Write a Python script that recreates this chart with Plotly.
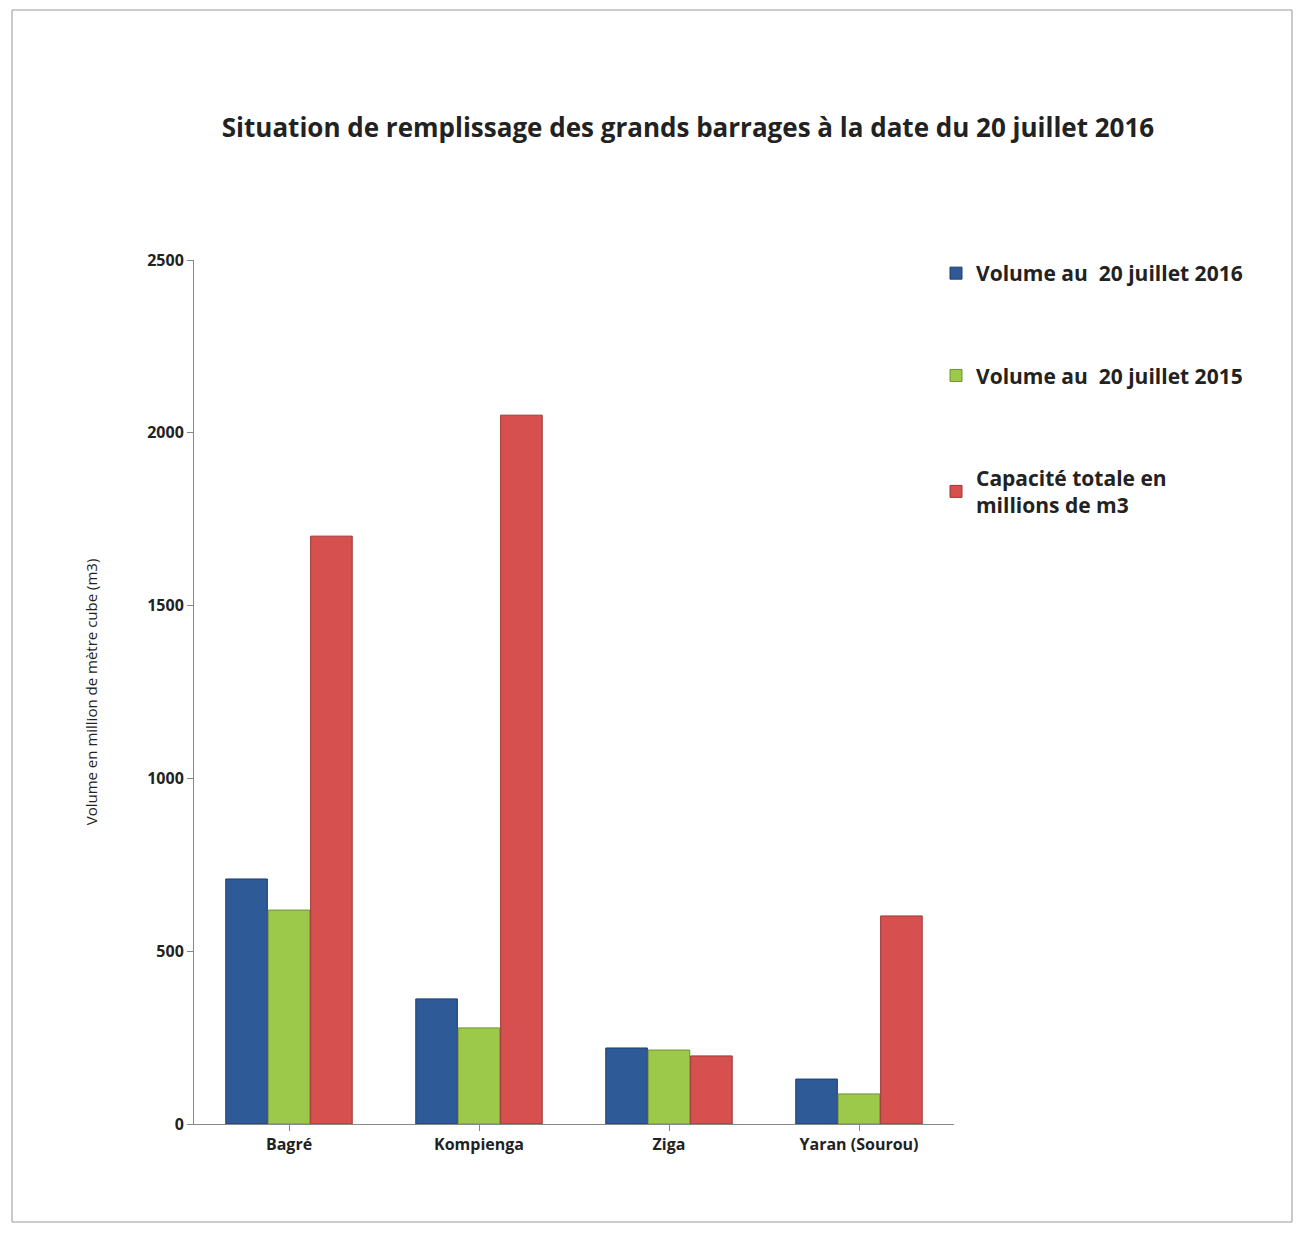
import plotly.graph_objects as go

categories = ["<b>Bagré</b>", "<b>Kompienga</b>", "<b>Ziga</b>", "<b>Yaran (Sourou)</b>"]
vol_2016 = [709, 362, 220, 130]
vol_2015 = [619, 278, 214, 87]
capacite = [1701, 2051, 197, 602]
names = ["<b>Volume au  20 juillet 2016</b>", "<b>Volume au  20 juillet 2015</b>",
         "<b>Capacité totale en<br>millions de m3</b>"]
colors = ["#2F5A98", "#9CC94A", "#D5504E"]
lines = ["#1F3D6B", "#6F9130", "#9E3634"]

fig = go.Figure()
for i, vals in enumerate([vol_2016, vol_2015, capacite]):
    fig.add_trace(go.Bar(x=categories, y=vals, name=names[i], legendgroup=str(i),
                         marker=dict(color=colors[i], line=dict(color=lines[i], width=1))))

W, H = 1302, 1234
L, R, T, B = 186, 356, 252, 118
pw, ph = W - L - R, H - T - B
fig.update_layout(
    width=W, height=H, paper_bgcolor="white", plot_bgcolor="white",
    margin=dict(l=L, r=R, t=T, b=B),
    font=dict(family="Open Sans, Liberation Sans, sans-serif", color="#222"),
    title=dict(text="<b>Situation de remplissage des grands barrages à la date du 20 juillet 2016</b>",
               x=680 / W, xanchor="center", y=1 - 120 / H, yanchor="middle",
               font=dict(size=26, color="#222")),
    bargap=0.33, bargroupgap=0.02,
    legend=dict(x=(928 - L) / pw, xanchor="left", y=1 - (245 - T) / ph, yanchor="top",
                font=dict(size=21), tracegroupgap=72, traceorder="grouped"),
    xaxis=dict(showline=True, linecolor="#888", ticks="outside", ticklen=6, tickcolor="#888",
               tickfont=dict(size=16, color="#222"), showgrid=False),
    yaxis=dict(range=[0, 2500], dtick=500, showline=True, linecolor="#888", ticks="outside",
               ticklen=6, tickcolor="#888", showgrid=False, tickfont=dict(size=16, color="#222"),
               tickprefix="<b>", ticksuffix="</b>",
               title=dict(text="Volume en million de mètre cube (m3)", font=dict(size=15), standoff=45)),
)
fig.add_shape(type="rect", xref="paper", yref="paper",
              x0=(4 - L) / pw, x1=(1284 - L) / pw, y0=1 - (1214 - T) / ph, y1=1 - (2 - T) / ph,
              line=dict(color="#999", width=1))
fig.write_html("out.html")
